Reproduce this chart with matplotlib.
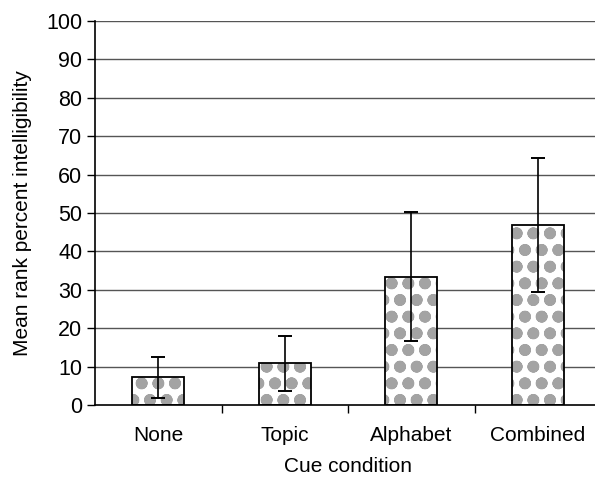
import matplotlib.pyplot as plt
import numpy as np

plt.rcParams['font.family'] = ['Liberation Sans', 'DejaVu Sans']
plt.rcParams['hatch.linewidth'] = 3.8

# Datos
condiciones = ['None', 'Topic', 'Alphabet', 'Combined']
medias = [7.3, 11.0, 33.3, 46.9]
error_sup = [12.5, 18.0, 50.3, 64.2]
error_inf = [1.8, 3.7, 16.7, 29.4]

yerr = [np.array(medias) - np.array(error_inf), np.array(error_sup) - np.array(medias)]
x = np.arange(len(condiciones))

fig = plt.figure(figsize=(5.95, 4.82), dpi=100)
ax = fig.add_axes([95 / 595, 77 / 482, 506 / 595, 384 / 482])

# grid lines
for v in range(10, 101, 10):
    ax.axhline(v, color='#555555', linewidth=1.0, zorder=0)

# relleno con puntos grises
ax.bar(x, medias, width=0.41, color='white', edgecolor='#a3a3a3', hatch='o',
       linewidth=0, zorder=2)
# borde negro
ax.bar(x, medias, width=0.41, fill=False, edgecolor='black', linewidth=1.3, zorder=3)

ax.errorbar(x, medias, yerr=yerr, fmt='none', ecolor='black', elinewidth=1.2,
            capsize=5, capthick=1.4, zorder=4)

ax.set_xlim(-0.5, 3.5)
ax.set_ylim(0, 100)
ax.set_yticks(range(0, 101, 10))
ax.set_xticks(x)
ax.set_xticklabels(condiciones)
ax.set_xticks([0.5, 1.5, 2.5], minor=True)
ax.tick_params(axis='x', which='major', length=0, pad=15, labelsize=15)
ax.tick_params(axis='x', which='minor', length=6, width=1, direction='out')
ax.tick_params(axis='y', length=6, width=1, labelsize=15.5, pad=3)

ax.spines['top'].set_visible(False)
ax.spines['right'].set_visible(False)
ax.spines['left'].set_linewidth(1.2)
ax.spines['bottom'].set_linewidth(1.2)

ax.set_xlabel('Cue condition', fontsize=15, labelpad=9)
ax.set_ylabel('Mean rank percent intelligibility', fontsize=15)
ax.yaxis.set_label_coords(-0.125, 0.5)

fig.savefig('out.png', dpi=100)
